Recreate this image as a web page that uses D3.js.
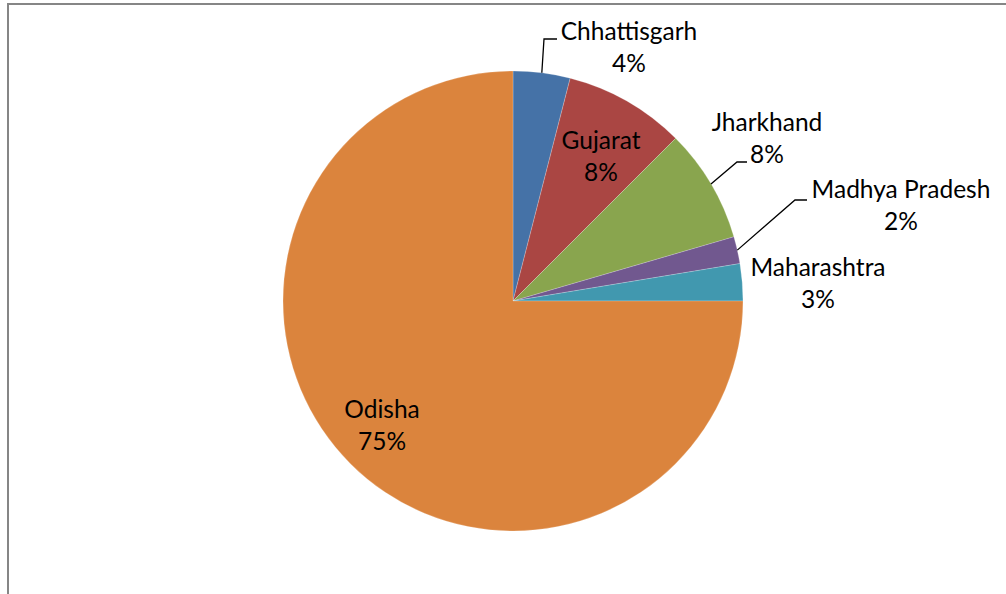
<!DOCTYPE html>
<html>
<head>
<meta charset="utf-8">
<script src="https://cdn.jsdelivr.net/npm/d3@7/dist/d3.min.js"></script>
<style>
  html, body { margin: 0; padding: 0; background: #ffffff; }
  svg { display: block; }
</style>
</head>
<body>
<svg id="chart" width="1006" height="594"></svg>
<script>
// ---- data ----
const categories = ["Chhattisgarh", "Gujarat", "Jharkhand", "Madhya Pradesh", "Maharashtra", "Odisha"];
const values = [4.0, 8.5, 8.0, 1.9, 2.6, 75.0];
const percentLabels = ["4%", "8%", "8%", "2%", "3%", "75%"];
const colors = ["#4572A7", "#AA4643", "#89A54E", "#71588F", "#4198AF", "#DB843D"];

// ---- layout ----
const W = 1006, H = 594;
const cx = 513, cy = 301, R = 230;
const fontFamily = "Lato, 'Open Sans', sans-serif";
const fontSize = 24.5;
const lineGap = 32;
// label anchor (center x, first baseline y) relative to pie centre, and optional leader elbow/end
const labelLayout = [
  { dx: 116, dy: -261, leader: [[31, -262], [44, -262]] },
  { dx: 88,  dy: -152 },
  { dx: 254, dy: -170, leader: [[224, -139], [234, -139]] },
  { dx: 388, dy: -103, leader: [[282, -101], [294, -101]] },
  { dx: 305, dy: -25 },
  { dx: -131, dy: 117 }
];

const svg = d3.select("#chart");

// frame
svg.append("rect")
  .attr("x", 8).attr("y", 4)
  .attr("width", W + 10).attr("height", H + 10)
  .attr("fill", "#ffffff")
  .attr("stroke", "#868686").attr("stroke-width", 2);

const pie = d3.pie().sort(null).value(d => d).startAngle(0).endAngle(2 * Math.PI);
const arcs = pie(values);
const arc = d3.arc().innerRadius(0).outerRadius(R);

const g = svg.append("g").attr("transform", `translate(${cx},${cy})`);

g.selectAll("path.slice")
  .data(arcs)
  .join("path")
  .attr("class", "slice")
  .attr("d", arc)
  .attr("fill", (d, i) => colors[i])
  .attr("stroke", "rgba(255,255,255,0.35)")
  .attr("stroke-width", 0.6);

// leader lines
arcs.forEach((d, i) => {
  const L = labelLayout[i];
  if (!L.leader) return;
  const mid = (d.startAngle + d.endAngle) / 2;
  const start = [R * Math.sin(mid), -R * Math.cos(mid)];
  const pts = [start].concat(L.leader);
  g.append("path")
    .attr("d", d3.line()(pts))
    .attr("fill", "none")
    .attr("stroke", "#000000")
    .attr("stroke-width", 1.3);
});

// labels
arcs.forEach((d, i) => {
  const L = labelLayout[i];
  const t = g.append("text")
    .attr("text-anchor", "middle")
    .attr("font-family", fontFamily)
    .attr("font-size", fontSize)
    .attr("fill", "#000000");
  t.append("tspan").attr("x", L.dx).attr("y", L.dy).text(categories[i]);
  t.append("tspan").attr("x", L.dx).attr("y", L.dy + lineGap).text(percentLabels[i]);
});
</script>
</body>
</html>
